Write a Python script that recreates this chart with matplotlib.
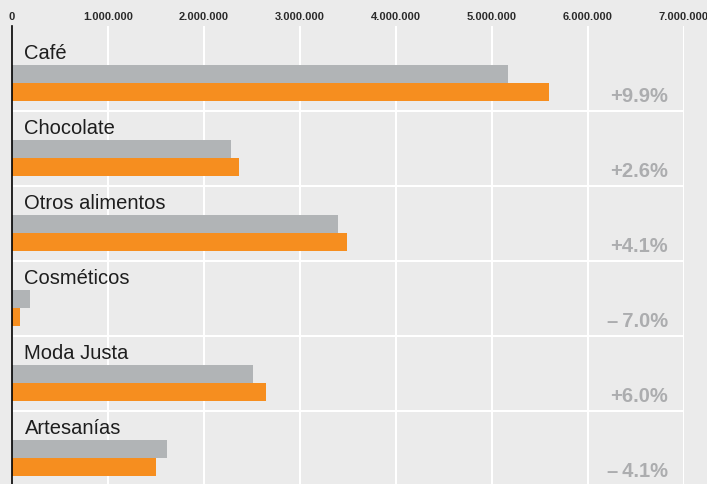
import matplotlib
matplotlib.use("Agg")
import matplotlib.pyplot as plt

categories = ["Café", "Chocolate", "Otros alimentos", "Cosméticos", "Moda Justa", "Artesanías"]
prev_values = [5167000, 2281000, 3396000, 187500, 2510000, 1615000]
curr_values = [5594000, 2365000, 3490000, 83000, 2646000, 1500000]
changes = ["+9.9%", "+2.6%", "+4.1%", "–\u20097.0%", "+6.0%", "–\u20094.1%"]
tick_values = [0, 1000000, 2000000, 3000000, 4000000, 5000000, 6000000, 7000000]
tick_labels = ["0", "1.000.000", "2.000.000", "3.000.000", "4.000.000", "5.000.000", "6.000.000", "7.000.000"]

BG = "#ebebeb"
GRAY = "#b1b4b6"
ORANGE = "#f68e1f"
PCT = "#acadaf"

plt.rcParams['font.family'] = ['Liberation Sans', 'DejaVu Sans']

W, H = 707, 485
fig = plt.figure(figsize=(W / 100, H / 100), dpi=100, facecolor=BG)
ax = fig.add_axes([12 / W, 0, (684 - 12) / W, (485 - 27) / H], facecolor=BG)

n = len(categories)
ys = list(range(n))
bar_h = 18 / 75
ax.barh([y + 0.507 for y in ys], prev_values, height=bar_h, color=GRAY, zorder=3)
ax.barh([y + 0.747 for y in ys], curr_values, height=bar_h, color=ORANGE, zorder=3)

for y, cat, ch in zip(ys, categories, changes):
    ax.text(130000, y + 0.225, cat, fontsize=14.5, color="#1e1e1e", va="center", ha="left", zorder=4)
    ax.text(6830000, y + 0.80, ch, fontsize=14.5, fontweight="bold", color=PCT, va="center", ha="right", zorder=4)

for y in range(1, n):
    ax.axhline(y, color="white", lw=1.5, zorder=1)

ax.set_xlim(0, 7000000)
ax.set_ylim((485 - 37) / 75, (27 - 37) / 75)
ax.set_xticks(tick_values)
ax.set_xticklabels(tick_labels, fontsize=8, fontweight="bold", color="#2a2a2a")
ax.xaxis.tick_top()
ax.tick_params(axis="x", length=0, pad=3.5)
ax.set_yticks([])
ax.grid(axis="x", color="white", lw=1.5, zorder=1)
ax.set_axisbelow(True)
for s in ["top", "right", "bottom"]:
    ax.spines[s].set_visible(False)
ax.spines["left"].set_color("black")
ax.spines["left"].set_linewidth(1.2)
ax.spines["left"].set_zorder(5)

fig.savefig("out.png", dpi=100, facecolor=BG)
